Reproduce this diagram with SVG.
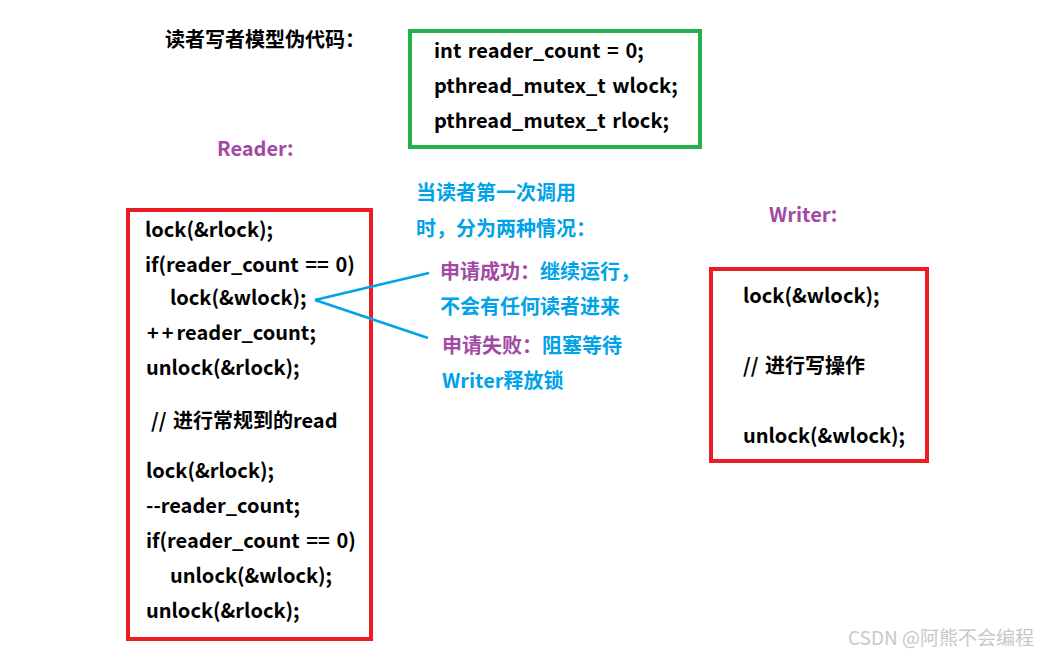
<svg xmlns="http://www.w3.org/2000/svg" width="1042" height="657" viewBox="0 0 1042 657">
<style>
text{font-family:"Noto Sans CJK SC","Open Sans",sans-serif;font-weight:bold;font-size:20px;fill:#000;word-spacing:2px}
.p{fill:#A349A4}
.b{fill:#00A2E8}
.box{fill:none;stroke-width:4}
.red{stroke:#ED1C24}
.grn{stroke:#22B14C}
.wm{font-weight:normal;font-size:19px;fill:#c8c8c8;word-spacing:0}
</style>
<rect width="1042" height="657" fill="#fff"/>
<text x="165" y="47">读者写者模型伪代码：</text>
<g id="globals">
<rect class="box grn" x="410" y="31" width="290" height="116"/>
<text x="434" y="58">int reader_count = 0;</text>
<text x="434" y="93">pthread_mutex_t wlock;</text>
<text x="434" y="128">pthread_mutex_t rlock;</text>
</g>
<text class="p" x="217" y="156">Reader:</text>
<g id="reader">
<rect class="box red" x="128" y="210" width="243" height="429"/>
<text x="145" y="237">lock(&amp;rlock);</text>
<text x="145" y="272" word-spacing="6">if(reader_count == 0)</text>
<text x="170" y="305">lock(&amp;wlock);</text>
<text x="147" y="340"><tspan letter-spacing="3">++</tspan>reader_count;</text>
<text x="146" y="375">unlock(&amp;rlock);</text>
<text x="151" y="428">// 进行常规到的read</text>
<text x="146" y="478">lock(&amp;rlock);</text>
<text x="146" y="513">--reader_count;</text>
<text x="146" y="548" word-spacing="6">if(reader_count == 0)</text>
<text x="170" y="583">unlock(&amp;wlock);</text>
<text x="146" y="618">unlock(&amp;rlock);</text>
</g>
<g id="note">
<text class="b" x="416" y="200">当读者第一次调用</text>
<text class="b" x="416" y="236">时，分为两种情况：</text>
<text x="440" y="279"><tspan class="p">申请成功：</tspan><tspan class="b">继续运行，</tspan></text>
<text class="b" x="440" y="314">不会有任何读者进来</text>
<text x="442" y="353"><tspan class="p">申请失败：</tspan><tspan class="b">阻塞等待</tspan></text>
<text class="b" x="442" y="388">Writer释放锁</text>
</g>
<g id="connectors" stroke="#00A2E8" stroke-width="2.5" fill="none">
<line x1="315" y1="300" x2="429" y2="273"/>
<line x1="315" y1="300" x2="428" y2="338"/>
</g>
<text class="p" x="769" y="222">Writer:</text>
<g id="writer">
<rect class="box red" x="711" y="269" width="216" height="192"/>
<text x="743" y="303">lock(&amp;wlock);</text>
<text x="743" y="373">// 进行写操作</text>
<text x="743" y="443">unlock(&amp;wlock);</text>
</g>
<text class="wm" x="848" y="645">CSDN @阿熊不会编程</text>
</svg>
